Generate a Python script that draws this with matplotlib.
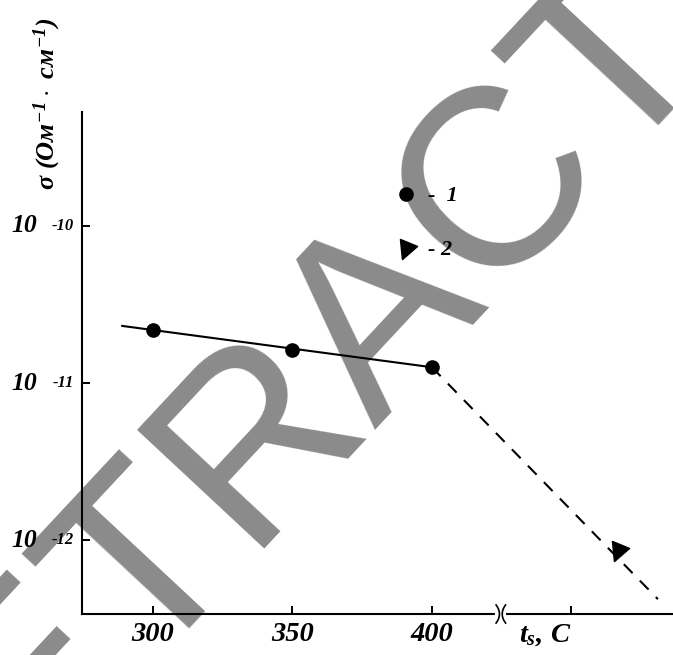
import numpy as np
import matplotlib
matplotlib.use("Agg")
import matplotlib.pyplot as plt
from matplotlib.lines import Line2D
from matplotlib.path import Path
import matplotlib.transforms as mtransforms

plt.rcParams['mathtext.fontset'] = 'custom'
plt.rcParams['mathtext.rm'] = 'Liberation Serif:italic:bold'
plt.rcParams['mathtext.it'] = 'Liberation Serif:italic:bold'
plt.rcParams['mathtext.bf'] = 'Liberation Serif:italic:bold'

# data
temps = [300, 350, 400]
sigma_1 = [2.18e-11, 1.62e-11, 1.26e-11]       # series 1 (circles)
fit_x = [289, 400]
fit_y = [2.31e-11, 1.26e-11]                   # solid line
dash_x = [400, 481]
dash_y = [1.26e-11, 4.2e-13]                   # dashed line
temp_2 = [466.7]
sigma_2 = [8.6e-13]                            # series 2 (triangle)

xticks = [300, 350, 400, 450]
xticklabels = ['300', '350', '400', r'$t_{s},\,C$']
yticks = [1e-10, 1e-11, 1e-12]
ymant = ['10', '10', '10']
yexp = ['-10', '-11', '-12']

serif = dict(family='Liberation Serif', style='italic', weight='bold')

# skewed triangle like in the scan
tri = Path([(-6, 9), (11, 2), (-4, -11), (-6, 9)],
           [Path.MOVETO, Path.LINETO, Path.LINETO, Path.CLOSEPOLY])

fig = plt.figure(figsize=(6.73, 6.55), dpi=100)
ax = fig.add_axes([82/673, 41/655, 591/673, 502/655])

ax.plot(fit_x, fit_y, color='black', lw=1.5)
ax.plot(dash_x, dash_y, color='black', lw=1.5, ls=(0, (6, 5)))
ax.plot(temps, sigma_1, 'o', color='black', ms=9.5)
ax.plot(temp_2, sigma_2, marker=tri, ls='none', color='black', ms=16)

ax.set_yscale('log')
ax.set_xlim(274.6, 486.4)
ax.set_ylim(3.38e-13, 5.32e-10)
ax.yaxis.set_minor_locator(matplotlib.ticker.NullLocator())

ax.set_xticks(xticks)
ax.set_xticklabels(xticklabels, fontsize=20.5, **serif)
# the "ts, C" label sits left of its tick
ax.get_xticklabels()[-1].set_horizontalalignment('right')
ax.set_yticks(yticks)
ax.set_yticklabels([])
ax.tick_params(direction='in', length=6, width=1.4)
ax.tick_params(axis='x', pad=6)

for s in ['top', 'right']:
    ax.spines[s].set_visible(False)
for s in ['left', 'bottom']:
    ax.spines[s].set_linewidth(1.5)

# y tick labels: "10" with small exponent beside it
trans = mtransforms.blended_transform_factory(ax.transAxes, ax.transData)
for v, m, e in zip(yticks, ymant, yexp):
    ax.text(-0.076, v, m, transform=trans, ha='right', va='center',
            fontsize=18.5, **serif)
    ax.text(-0.013, v, e, transform=trans, ha='right', va='center',
            fontsize=12, **serif)

ax.set_ylabel(r'$\sigma\ (Ом^{-1}\cdot\ см^{-1})$', fontsize=19)
ax.yaxis.label.set_va('center')
ax.yaxis.set_label_coords(-0.058, 1.016)

# axis break marks
btrans = mtransforms.blended_transform_factory(ax.transData, ax.transAxes)
ax.plot([423.3, 426.0], [0, 0], color='white', lw=3, transform=btrans,
        clip_on=False, zorder=3)
yy = np.linspace(-0.018, 0.018, 20)
for xb, sgn in [(423.0, 1), (426.4, -1)]:
    xx = xb + sgn * 1.2 * (1 - (yy / 0.018) ** 2)
    ax.plot(xx, yy, color='black', lw=1.2, transform=btrans, clip_on=False, zorder=4)

# legend
handles = [Line2D([], [], marker='o', color='black', ls='none', ms=9.5),
           Line2D([], [], marker=tri, color='black', ls='none', ms=16)]
leg = ax.legend(handles, ['-  1', '- 2'], loc='upper left', frameon=False,
                bbox_to_anchor=(0.51, 0.875), handlelength=1.0, handletextpad=0.5,
                labelspacing=1.5, borderpad=0,
                prop=dict(size=16, **serif))

# watermark
fig.text(0.562, 0.530, 'RETRACTED', rotation=47, ha='center', va='center',
         fontsize=182, family='Liberation Sans', color='black', alpha=0.46,
         zorder=10)

fig.savefig('out.png', dpi=100)
